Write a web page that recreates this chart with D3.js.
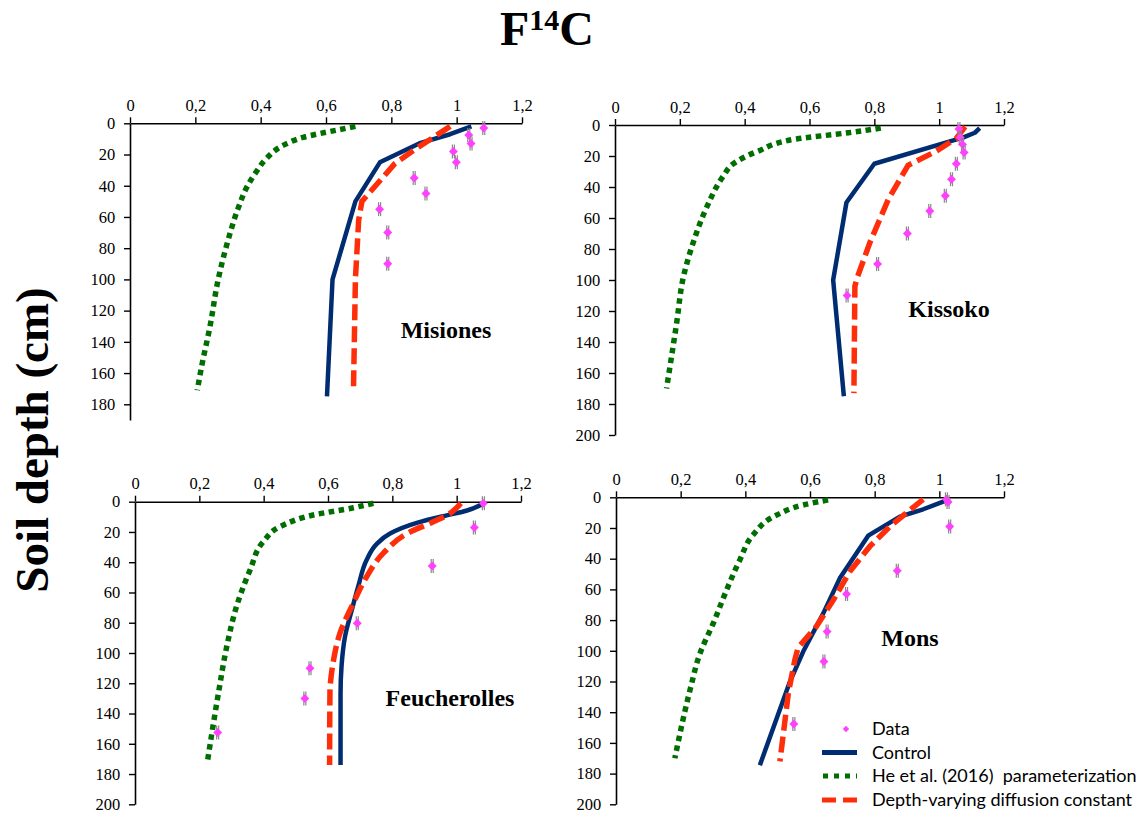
<!DOCTYPE html>
<html>
<head>
<meta charset="utf-8">
<script src="https://cdn.jsdelivr.net/npm/d3@7"></script>
<style>
  body { margin: 0; background: #fff; }
  svg { display: block; }
  .tick text { font-family: 'Liberation Serif', 'Times New Roman', serif !important; }
</style>
</head>
<body>
<svg id="chart" width="1147" height="816"></svg>
<script>
// ---------------- DATA (value, depth cm) ----------------
const xTicks = [0, 0.2, 0.4, 0.6, 0.8, 1, 1.2];
const xTickLabels = ["0", "0,2", "0,4", "0,6", "0,8", "1", "1,2"];
const depthTicks = [0, 20, 40, 60, 80, 100, 120, 140, 160, 180, 200];
const panelNames = ["Misiones", "Kissoko", "Feucherolles", "Mons"];
const seriesNames = ["Data", "Control", "He et al. (2016)  parameterization", "Depth-varying diffusion constant"];

const misionesControl = [[1.045,2],[0.98,7],[0.89,12.5],[0.765,25],[0.69,50],[0.62,100],[0.603,175]];
const misionesHe = [[0.69,2],[0.63,4.5],[0.53,9],[0.47,14],[0.42,22],[0.39,30],[0.36,40],[0.33,55],[0.30,75],[0.27,100],[0.245,130],[0.22,155],[0.206,171]];
const misionesDepth = [[0.98,2],[0.87,17],[0.81,26],[0.71,50],[0.70,62],[0.69,100],[0.684,172]];
const misionesData = [[1.083,3],[1.037,7.5],[1.044,13],[0.99,18],[0.999,25],[0.87,35],[0.906,45],[0.764,55],[0.789,70],[0.789,90]];

const kissokoControl = [[1.125,2],[1.11,5],[1.075,8],[0.80,25],[0.714,50],[0.673,100],[0.706,175]];
const kissokoHe = [[0.82,2],[0.72,5],[0.56,9],[0.44,17],[0.365,25],[0.334,33],[0.283,53],[0.241,76],[0.211,98],[0.19,128],[0.159,170]];
const kissokoDepth = [[1.08,1],[1.053,8.6],[0.99,17],[0.904,26],[0.843,48],[0.786,76],[0.748,98],[0.74,104],[0.737,173]];
const kissokoData = [[1.061,2.6],[1.065,8],[1.072,12.5],[1.077,17.8],[1.053,25],[1.038,35],[1.019,45.6],[0.971,55.5],[0.902,70],[0.81,89.7],[0.716,110]];

const feucherollesControl = [[1.076,2],[1.03,6],[0.969,9],[0.876,14],[0.793,21],[0.751,28],[0.72,38.5],[0.694,56],[0.674,71.6],[0.653,89],[0.642,109],[0.639,127],[0.639,174]];
const feucherollesHe = [[0.741,1],[0.679,4],[0.554,8.8],[0.451,16.5],[0.399,26.4],[0.358,45],[0.316,69],[0.285,96],[0.259,127],[0.225,172]];
const feucherollesDepth = [[1.013,1],[0.979,7.7],[0.92,14],[0.855,20],[0.772,34],[0.72,49.6],[0.679,67],[0.637,87],[0.617,105],[0.606,127],[0.605,174]];
const feucherollesData = [[1.083,1.1],[1.055,17],[0.924,42.5],[0.691,80.4],[0.544,110],[0.528,130],[0.257,152.6]];

const monsControl = [[1.022,2],[0.95,7.8],[0.878,12.6],[0.78,25],[0.692,52.8],[0.641,75.6],[0.579,100.5],[0.538,120],[0.445,174.5]];
const monsHe = [[0.656,1.7],[0.579,5],[0.497,11.5],[0.424,24.5],[0.383,40.8],[0.342,60.4],[0.301,82],[0.26,101.6],[0.229,125.5],[0.182,170]];
const monsDepth = [[0.95,1.3],[0.847,19],[0.785,32],[0.723,48.4],[0.672,67],[0.62,84],[0.563,98],[0.553,106],[0.533,127.7],[0.507,172]];
const monsData = [[1.022,1.3],[1.027,3],[1.032,19],[0.87,47.8],[0.713,63],[0.653,87.5],[0.643,107],[0.55,147.7]];

// ---------------- LAYOUT / STYLE ----------------
const panels = [
  { name: panelNames[0], control: misionesControl, he: misionesHe, depth: misionesDepth, data: misionesData,
    x0: 130, x1: 522, y0: 123.3, y200: 435.5, yMax: 190, yTicks: depthTicks.slice(0, 10),
    label: [446, 338], smooth: false },
  { name: panelNames[1], control: kissokoControl, he: kissokoHe, depth: kissokoDepth, data: kissokoData,
    x0: 615, x1: 1004, y0: 125, y200: 435, yMax: 200, yTicks: depthTicks,
    label: [949, 317], smooth: false },
  { name: panelNames[2], control: feucherollesControl, he: feucherollesHe, depth: feucherollesDepth, data: feucherollesData,
    x0: 135, x1: 521, y0: 501.7, y200: 804.3, yMax: 200, yTicks: depthTicks,
    label: [450, 706], smooth: true },
  { name: panelNames[3], control: monsControl, he: monsHe, depth: monsDepth, data: monsData,
    x0: 616, x1: 1004, y0: 497.3, y200: 804.3, yMax: 200, yTicks: depthTicks,
    label: [910, 646], smooth: false }
];

const colors = { data: "#ff40ff", control: "#002d72", he: "#006e00", depth: "#ff2e0a", err: "#888" };
const serif = "'Liberation Serif', 'Times New Roman', serif";
const sans = "Lato, 'Liberation Sans', sans-serif";

const svg = d3.select("#chart");

// Title F14C
const title = svg.append("text")
  .attr("x", 547).attr("y", 45).attr("text-anchor", "middle")
  .attr("font-family", serif).attr("font-weight", "bold").attr("font-size", 48);
title.append("tspan").text("F");
title.append("tspan").attr("font-size", 30).attr("dy", -15).text("14");
title.append("tspan").attr("dy", 15).text("C");

// Y axis label
svg.append("text")
  .attr("transform", "translate(48,440) rotate(-90)")
  .attr("text-anchor", "middle")
  .attr("font-family", serif).attr("font-weight", "bold").attr("font-size", 47)
  .text("Soil depth (cm)");

panels.forEach(p => {
  const x = d3.scaleLinear().domain([0, 1.2]).range([p.x0, p.x1]);
  const yFull = d3.scaleLinear().domain([0, 200]).range([p.y0, p.y200]);
  const y = d3.scaleLinear().domain([0, p.yMax]).range([p.y0, yFull(p.yMax)]);
  const g = svg.append("g");

  // x axis (on top)
  const xa = g.append("g").attr("transform", `translate(0,${p.y0})`)
    .call(d3.axisTop(x).tickValues(xTicks).tickSize(6).tickSizeOuter(0)
      .tickFormat((d, i) => xTickLabels[i]));
  xa.attr("font-family", serif).attr("font-size", 16.5);
  xa.selectAll("text").attr("fill", "#000").attr("dy", "-0.2em");
  xa.selectAll("line").attr("stroke", "#000").attr("stroke-width", 1.4);
  xa.select(".domain").attr("stroke", "#000").attr("stroke-width", 1.6);

  // y axis (left)
  const ya = g.append("g").attr("transform", `translate(${p.x0},0)`)
    .call(d3.axisLeft(y).tickValues(p.yTicks).tickSize(6).tickSizeOuter(0));
  ya.attr("font-family", serif).attr("font-size", 16.5);
  ya.selectAll("text").attr("fill", "#000").attr("dx", "-0.35em");
  ya.selectAll("line").attr("stroke", "#000").attr("stroke-width", 1.4);
  ya.select(".domain").attr("stroke", "#000").attr("stroke-width", 1.6);

  const smoothCurve = d3.curveMonotoneY;
  const line = (curve) => d3.line().x(d => x(d[0])).y(d => y(d[1])).curve(curve);

  // He et al. (green dotted)
  g.append("path").datum(p.he).attr("d", line(smoothCurve))
    .attr("fill", "none").attr("stroke", colors.he).attr("stroke-width", 5.5)
    .attr("stroke-dasharray", "5.5,4.5");
  // Control (navy solid)
  g.append("path").datum(p.control).attr("d", line(p.smooth ? smoothCurve : d3.curveLinear))
    .attr("fill", "none").attr("stroke", colors.control).attr("stroke-width", 4.5)
    .attr("stroke-linejoin", "round");
  // Depth-varying (red dashed)
  g.append("path").datum(p.depth).attr("d", line(p.smooth ? smoothCurve : d3.curveLinear))
    .attr("fill", "none").attr("stroke", colors.depth).attr("stroke-width", 5.5)
    .attr("stroke-dasharray", "16,6");

  // Data points with error bars
  const pts = g.append("g").selectAll("g").data(p.data).join("g")
    .attr("transform", d => `translate(${x(d[0])},${y(d[1])})`);
  pts.append("line").attr("x1", -1).attr("x2", -1).attr("y1", -7).attr("y2", 7)
    .attr("stroke", colors.err).attr("stroke-width", 1.2);
  pts.append("line").attr("x1", 1).attr("x2", 1).attr("y1", -7).attr("y2", 7)
    .attr("stroke", colors.err).attr("stroke-width", 1.2);
  pts.append("path").attr("d", d3.symbol(d3.symbolSquare, 40)())
    .attr("transform", "rotate(45)").attr("fill", colors.data);

  // panel label
  g.append("text").attr("x", p.label[0]).attr("y", p.label[1]).attr("text-anchor", "middle")
    .attr("font-family", serif).attr("font-weight", "bold").attr("font-size", 24)
    .text(p.name);
});

// Legend
const legend = svg.append("g");
const rows = [729, 752.5, 776, 800];
const lx0 = 822, lx1 = 857, tx = 872;
legend.append("path").attr("d", d3.symbol(d3.symbolSquare, 20)())
  .attr("transform", `translate(846,${rows[0]}) rotate(45)`).attr("fill", colors.data);
legend.append("line").attr("x1", lx0).attr("x2", lx1).attr("y1", rows[1]).attr("y2", rows[1])
  .attr("stroke", colors.control).attr("stroke-width", 5);
legend.append("line").attr("x1", lx0 + 1).attr("x2", lx1).attr("y1", rows[2]).attr("y2", rows[2])
  .attr("stroke", colors.he).attr("stroke-width", 5).attr("stroke-dasharray", "5,6");
legend.append("line").attr("x1", lx0).attr("x2", lx1).attr("y1", rows[3]).attr("y2", rows[3])
  .attr("stroke", colors.depth).attr("stroke-width", 5).attr("stroke-dasharray", "14,7");
seriesNames.forEach((s, i) => {
  legend.append("text").attr("x", tx).attr("y", rows[i] + 6)
    .attr("font-family", sans).attr("font-size", 18).attr("fill", "#000")
    .style("white-space", "pre")
    .text(s);
});
</script>
</body>
</html>
